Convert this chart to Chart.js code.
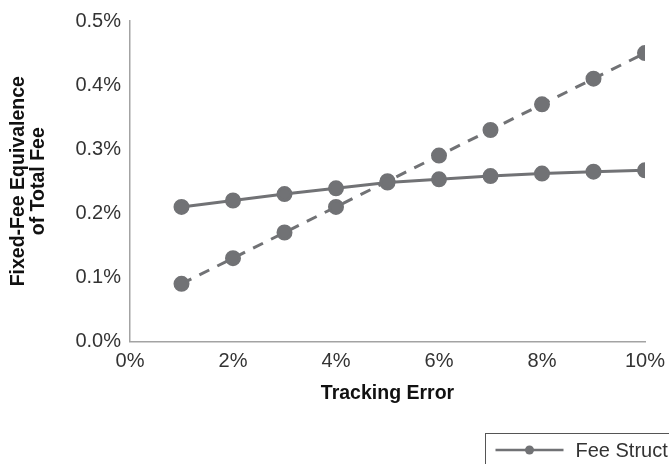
<!DOCTYPE html>
<html>
<head>
<meta charset="utf-8">
<script src="https://cdn.jsdelivr.net/npm/chart.js@4/dist/chart.umd.min.js"></script>
<style>
  html, body { margin: 0; padding: 0; background: #fff; overflow: hidden; }
  #wrap { position: relative; width: 669px; height: 464px; }
</style>
</head>
<body>
<div id="wrap"><canvas id="c" width="669" height="464"></canvas></div>
<script>
// Tracking error (%) on the x axis
const trackingError = [1, 2, 3, 4, 5, 6, 7, 8, 9, 10];
// Fixed-fee equivalence of the total fee (%) for each structure
const structureA = [0.210, 0.220, 0.230, 0.239, 0.248, 0.253, 0.258, 0.262, 0.265, 0.267];
const structureB = [0.090, 0.130, 0.170, 0.210, 0.250, 0.290, 0.330, 0.370, 0.410, 0.450];
const seriesNames = ['Fee Structure A', 'Fee Structure B'];
const xTicks = [0, 2, 4, 6, 8, 10];
const yTicks = [0, 0.1, 0.2, 0.3, 0.4, 0.5];

const GREY = '#717275';
const AXIS = '#a3a3a3';
const TEXT = '#333333';
const FAMILY = '"Liberation Sans", Arial, sans-serif';
const tickFont = { family: FAMILY, size: 20 };
const titleFont = { family: FAMILY, size: 19.5, weight: 'bold', lineHeight: 1.0 };

const toPoints = (vals) => vals.map((v, i) => ({ x: trackingError[i], y: v }));

// Boxed legend in the lower right, drawn onto the canvas
const boxLegend = {
  id: 'boxLegend',
  afterDraw(chart) {
    const ctx = chart.ctx;
    const x0 = 485.5, y0 = 433.5;
    ctx.save();
    ctx.strokeStyle = '#555';
    ctx.lineWidth = 1;
    ctx.strokeRect(x0, y0, 500, 60);
    let x = x0 + 10;
    const y = 450;
    chart.data.datasets.forEach((ds) => {
      ctx.strokeStyle = ds.borderColor;
      ctx.lineWidth = 2.5;
      ctx.setLineDash(ds.borderDash || []);
      ctx.beginPath();
      ctx.moveTo(x, y);
      ctx.lineTo(x + 68, y);
      ctx.stroke();
      ctx.setLineDash([]);
      ctx.fillStyle = ds.pointBackgroundColor;
      ctx.beginPath();
      ctx.arc(x + 34, y, 4.5, 0, Math.PI * 2);
      ctx.fill();
      ctx.fillStyle = TEXT;
      ctx.font = '20px ' + FAMILY;
      ctx.textBaseline = 'middle';
      ctx.textAlign = 'left';
      ctx.fillText(ds.label, x + 80, y + 1);
      x += 80 + ctx.measureText(ds.label).width + 30;
    });
    ctx.restore();
  }
};

new Chart(document.getElementById('c'), {
  type: 'line',
  data: {
    datasets: [
      {
        label: seriesNames[0],
        data: toPoints(structureA),
        borderColor: GREY,
        backgroundColor: GREY,
        pointBackgroundColor: GREY,
        pointBorderColor: GREY,
        borderWidth: 3,
        pointRadius: 6.5,
        tension: 0
      },
      {
        label: seriesNames[1],
        data: toPoints(structureB),
        borderColor: GREY,
        backgroundColor: GREY,
        pointBackgroundColor: GREY,
        pointBorderColor: GREY,
        borderWidth: 3,
        borderDash: [11, 9],
        pointRadius: 6.5,
        tension: 0
      }
    ]
  },
  options: {
    responsive: false,
    animation: false,
    layout: { padding: { top: 21, right: 24, bottom: 52, left: 0 } },
    plugins: {
      legend: { display: false },
      tooltip: { enabled: false }
    },
    scales: {
      x: {
        type: 'linear',
        min: 0,
        max: 10,
        afterBuildTicks(axis) { axis.ticks = xTicks.map(v => ({ value: v })); },
        afterFit(axis) { axis.paddingLeft = 0; axis.paddingRight = 0; },
        grid: { display: false, drawTicks: false },
        border: { display: true, color: AXIS, width: 1.5 },
        ticks: {
          color: TEXT,
          font: tickFont,
          padding: 8,
          maxRotation: 0,
          callback: (v) => v + '%'
        },
        title: {
          display: true,
          text: 'Tracking Error',
          color: '#111',
          font: titleFont,
          padding: { top: 2, bottom: 9 }
        }
      },
      y: {
        min: 0,
        max: 0.5,
        afterBuildTicks(axis) { axis.ticks = yTicks.map(v => ({ value: v })); },
        afterFit(axis) { axis.width = 130; axis.paddingTop = 0; axis.paddingBottom = 0; },
        grid: { display: false, drawTicks: false },
        border: { display: true, color: AXIS, width: 1.5 },
        ticks: {
          color: TEXT,
          font: tickFont,
          padding: 9,
          callback: (v) => v.toFixed(1) + '%'
        },
        title: {
          display: true,
          text: ['Fixed-Fee Equivalence', 'of Total Fee'],
          color: '#111',
          font: titleFont,
          padding: { top: 9, bottom: 0 }
        }
      }
    }
  },
  plugins: [boxLegend]
});
</script>
</body>
</html>
